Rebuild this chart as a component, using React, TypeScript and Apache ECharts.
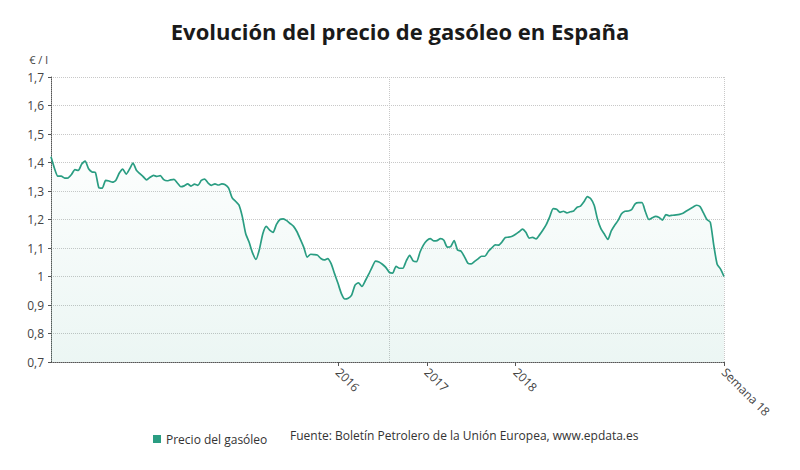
import React, { useEffect, useRef } from "react";
import * as echarts from "echarts";

const titleText = "Evolución del precio de gasóleo en España";
const seriesName = "Precio del gasóleo";
const sourceText = "Fuente: Boletín Petrolero de la Unión Europea, www.epdata.es";
const yUnit = "€ / l";

// weekly-ish samples (every two weeks), late 2012 -> week 18 of 2020
const prices = [
  1.42, 1.38, 1.352, 1.352, 1.345, 1.346, 1.358, 1.375, 1.372, 1.395,
  1.405, 1.378, 1.367, 1.365, 1.312, 1.31, 1.337, 1.335, 1.331, 1.338,
  1.363, 1.377, 1.359, 1.377, 1.398, 1.373, 1.361, 1.35, 1.339, 1.348,
  1.355, 1.351, 1.354, 1.34, 1.336, 1.339, 1.341, 1.328, 1.315, 1.318,
  1.325, 1.317, 1.324, 1.32, 1.337, 1.342, 1.328, 1.32, 1.325, 1.321,
  1.325, 1.322, 1.31, 1.277, 1.264, 1.251, 1.21, 1.15, 1.12, 1.083,
  1.06, 1.095, 1.15, 1.176, 1.163, 1.155, 1.183, 1.2, 1.202, 1.196,
  1.186, 1.176, 1.157, 1.13, 1.102, 1.068, 1.078, 1.077, 1.075, 1.063,
  1.058, 1.063, 1.045, 1.01, 0.976, 0.94, 0.921, 0.924, 0.935, 0.97,
  0.978, 0.965, 0.985, 1.008, 1.033, 1.054, 1.051, 1.043, 1.032, 1.015,
  1.012, 1.036, 1.029, 1.029, 1.055, 1.074, 1.055, 1.052, 1.085, 1.11,
  1.126, 1.133, 1.125, 1.126, 1.133, 1.127, 1.103, 1.105, 1.126, 1.093,
  1.089, 1.07, 1.047, 1.044, 1.053, 1.062, 1.071, 1.071, 1.088, 1.1,
  1.111, 1.11, 1.121, 1.137, 1.138, 1.141, 1.148, 1.157, 1.166, 1.155,
  1.135, 1.137, 1.132, 1.146, 1.163, 1.183, 1.21, 1.238, 1.236, 1.225,
  1.229, 1.223, 1.227, 1.23, 1.243, 1.247, 1.262, 1.28, 1.273, 1.25,
  1.2, 1.167, 1.148, 1.13, 1.16, 1.18, 1.197, 1.22, 1.229, 1.23,
  1.235, 1.255, 1.259, 1.259, 1.227, 1.2, 1.206, 1.211, 1.207, 1.198,
  1.217, 1.213, 1.215, 1.216, 1.218, 1.222, 1.23, 1.237, 1.244, 1.25,
  1.245, 1.223, 1.2, 1.19, 1.11, 1.043, 1.026, 1.0,
];

const tickIndices = [84, 110, 136, 197];
const tickLabels = ["2016", "2017", "2018", "Semana 18"];
const splitIndices = [99, 197];

const categories = prices.map((_, i) => String(i));

export default function App() {
  const ref = useRef<HTMLDivElement>(null);

  useEffect(() => {
    if (!ref.current) return;
    const chart = echarts.init(ref.current, undefined, { renderer: "svg" });
    const font = "'Open Sans', 'Noto Sans', sans-serif";
    const lineColor = "#2a9d82";
    chart.setOption({
      animation: false,
      textStyle: { fontFamily: font },
      title: {
        text: titleText,
        left: "center",
        top: 15,
        textStyle: { fontFamily: font, fontSize: 22, fontWeight: "bold", color: "#1a1a1a" },
      },
      legend: {
        data: [{ name: seriesName, icon: "rect" }],
        left: 148,
        top: 428,
        itemWidth: 8,
        itemHeight: 8,
        itemGap: 6,
        textStyle: { fontFamily: font, fontSize: 12, color: "#333" },
      },
      graphic: [
        {
          type: "text",
          left: 290,
          top: 429,
          style: { text: sourceText, font: `12px ${font}`, fill: "#333" },
        },
      ],
      grid: { left: 51, right: 76, top: 77, bottom: 108, containLabel: false },
      xAxis: {
        type: "category",
        data: categories,
        boundaryGap: false,
        axisLine: { show: true, lineStyle: { color: "#555", type: "dotted", width: 1 } },
        axisTick: {
          show: true,
          length: 4,
          interval: (i: number) => tickIndices.includes(i),
          lineStyle: { color: "#555" },
        },
        axisLabel: {
          interval: (i: number) => tickIndices.includes(i),
          rotate: -45,
          margin: 8,
          fontSize: 12,
          color: "#444",
          fontFamily: font,
          formatter: (_v: string, i: number) => {
            const k = tickIndices.indexOf(i);
            return k >= 0 ? tickLabels[k] : "";
          },
        },
        splitLine: {
          show: true,
          interval: (i: number) => splitIndices.includes(i),
          lineStyle: { color: "#c8c8c8", type: "dotted" },
        },
      },
      yAxis: {
        type: "value",
        min: 0.7,
        max: 1.7,
        interval: 0.1,
        name: yUnit,
        nameLocation: "end",
        nameGap: 12,
        nameTextStyle: { fontFamily: font, fontSize: 11, color: "#444", align: "right", padding: [0, 3, 0, 0] },
        axisLine: { show: true, lineStyle: { color: "#555", type: "dotted", width: 1 } },
        axisTick: { show: true, length: 3, lineStyle: { color: "#555" } },
        axisLabel: {
          fontSize: 12,
          color: "#444",
          margin: 7,
          fontFamily: font,
          formatter: (v: number) => String(Number(v.toFixed(1))).replace(".", ","),
        },
        splitLine: { show: true, lineStyle: { color: "#c8c8c8", type: "dotted" } },
      },
      series: [
        {
          name: seriesName,
          type: "line",
          data: prices,
          showSymbol: false,
          symbol: "none",
          smooth: 0.2,
          itemStyle: { color: lineColor },
          lineStyle: { color: lineColor, width: 1.7 },
          areaStyle: {
            color: new echarts.graphic.LinearGradient(0, 0, 0, 1, [
              { offset: 0, color: "rgba(42,157,130,0.02)" },
              { offset: 1, color: "rgba(42,157,130,0.13)" },
            ]),
          },
        },
      ],
    });
    return () => chart.dispose();
  }, []);

  return <div ref={ref} style={{ width: 800, height: 470, position: "absolute", left: 0, top: 0 }} />;
}
